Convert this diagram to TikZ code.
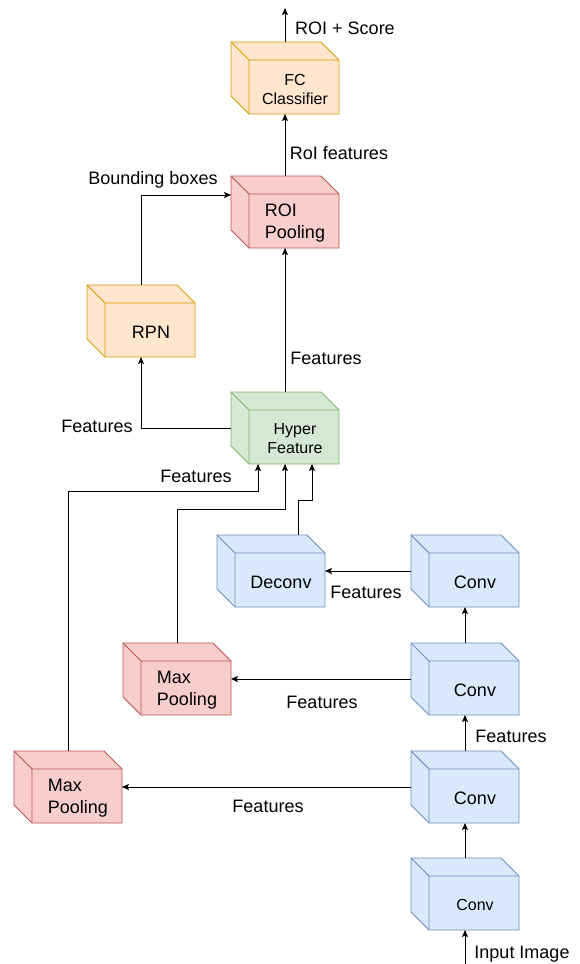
\documentclass[tikz,border=0pt]{standalone}
\usepackage{fontspec}
\setmainfont{Liberation Sans}
\usetikzlibrary{arrows.meta,calc}
\definecolor{orF}{HTML}{FFE6CC}\definecolor{orS}{HTML}{D79B00}
\definecolor{rdF}{HTML}{F8CECC}\definecolor{rdS}{HTML}{B85450}
\definecolor{grF}{HTML}{D5E8D4}\definecolor{grS}{HTML}{82B366}
\definecolor{blF}{HTML}{DAE8FC}\definecolor{blS}{HTML}{6C8EBF}
\tikzset{
  cubebox/.style={draw=none,minimum width=108pt,minimum height=72pt,inner sep=0pt,outer sep=0pt},
  cubetxt/.style={align=center,inner sep=0pt,font=\fontsize{18}{22}\selectfont},
  smalltxt/.style={font=\fontsize{16}{19}\selectfont},
  lefttxt/.style={align=left},
  lbl/.style={inner sep=0pt,font=\fontsize{18}{22}\selectfont},
  conn/.style={draw=black,line width=0.9pt,-{Stealth[length=7pt,width=6pt,inset=1.5pt]}},
}
\newcommand{\mycube}[7]{% name, x, y, fill, stroke, text, extra text style
  \begin{scope}[shift={(#2,#3)}]
    \path[fill=#4,draw=#5,line width=0.9pt,line join=round]
      (0,0) -- (90,0) -- (108,18) -- (108,72) -- (18,72) -- (0,54) -- cycle;
    \draw[#5,line width=0.9pt,line join=round] (0,0) -- (18,18) -- (108,18) (18,18) -- (18,72);
    \node[cubetxt,#7] at (64,47) {#6};
    \node[cubebox] (#1) at (54,36) {};
  \end{scope}}
\begin{document}
\begin{tikzpicture}[x=1pt,y=-1pt]
\useasboundingbox[fill=white] (0,0) rectangle (579,964);
% cubes
\mycube{fc}{231}{42}{orF}{orS}{FC\\Classifier}{smalltxt}
\mycube{roi}{231}{176}{rdF}{rdS}{ROI\\Pooling}{lefttxt}
\mycube{rpn}{87}{285}{orF}{orS}{RPN}{}
\mycube{hyper}{231}{392}{grF}{grS}{Hyper\\Feature}{smalltxt}
\mycube{deconv}{217}{535}{blF}{blS}{Deconv}{}
\mycube{conva}{411}{535}{blF}{blS}{Conv}{}
\mycube{mpb}{123}{643}{rdF}{rdS}{Max\\Pooling}{lefttxt}
\mycube{convb}{411}{643}{blF}{blS}{Conv}{}
\mycube{mpa}{14}{751}{rdF}{rdS}{Max\\Pooling}{lefttxt}
\mycube{convc}{411}{751}{blF}{blS}{Conv}{}
\mycube{convd}{411}{858}{blF}{blS}{Conv}{smalltxt}
% helper coordinates
\coordinate (inp) at (465,964);
\coordinate (out) at (285,8);
\coordinate (h1) at ($(hyper.south west)!0.25!(hyper.south east)$);
\coordinate (h2) at ($(hyper.south west)!0.5!(hyper.south east)$);
\coordinate (h3) at ($(hyper.south west)!0.75!(hyper.south east)$);
\coordinate (dtop) at ($(deconv.north west)!0.75!(deconv.north east)$);
\coordinate (roiL) at ([yshift=-19pt]roi.north west);
% connectors
\draw[conn] (inp) -- (convd.south);
\draw[conn] (convd.north) -- (convc.south);
\draw[conn] (convc.north) -- (convb.south);
\draw[conn] (convb.north) -- (conva.south);
\draw[conn] (conva.west) -- (deconv.east);
\draw[conn] (convb.west) -- (mpb.east);
\draw[conn] (convc.west) -- (mpa.east);
\draw[conn] (mpa.north) |- ([yshift=-27pt]h1) -- (h1);
\draw[conn] (mpb.north) |- ([yshift=-45pt]h2) -- (h2);
\draw[conn] (dtop) |- ([yshift=-36pt]h3) -- (h3);
\draw[conn] (hyper.north) -- (roi.south);
\draw[conn] (hyper.west) -| (rpn.south);
\draw[conn] (rpn.north) |- (roiL);
\draw[conn] (roi.north) -- (fc.south);
\draw[conn] (fc.north) -- (out);
% labels
\node[lbl] (l1) at (345,28) {ROI + Score};
\node[lbl] (l2) at (339,153) {RoI features};
\node[lbl] (l3) at (153,180) {Bounding boxes};
\node[lbl] (l4) at (326,358) {Features};
\node[lbl] (l5) at (97,426) {Features};
\node[lbl] (l6) at (196,476) {Features};
\node[lbl] (l7) at (366,592) {Features};
\node[lbl] (l8) at (322,702) {Features};
\node[lbl] (l9) at (511,736) {Features};
\node[lbl] (l10) at (268,806) {Features};
\node[lbl] (l11) at (522,954) {Input Image};
\end{tikzpicture}
\end{document}
